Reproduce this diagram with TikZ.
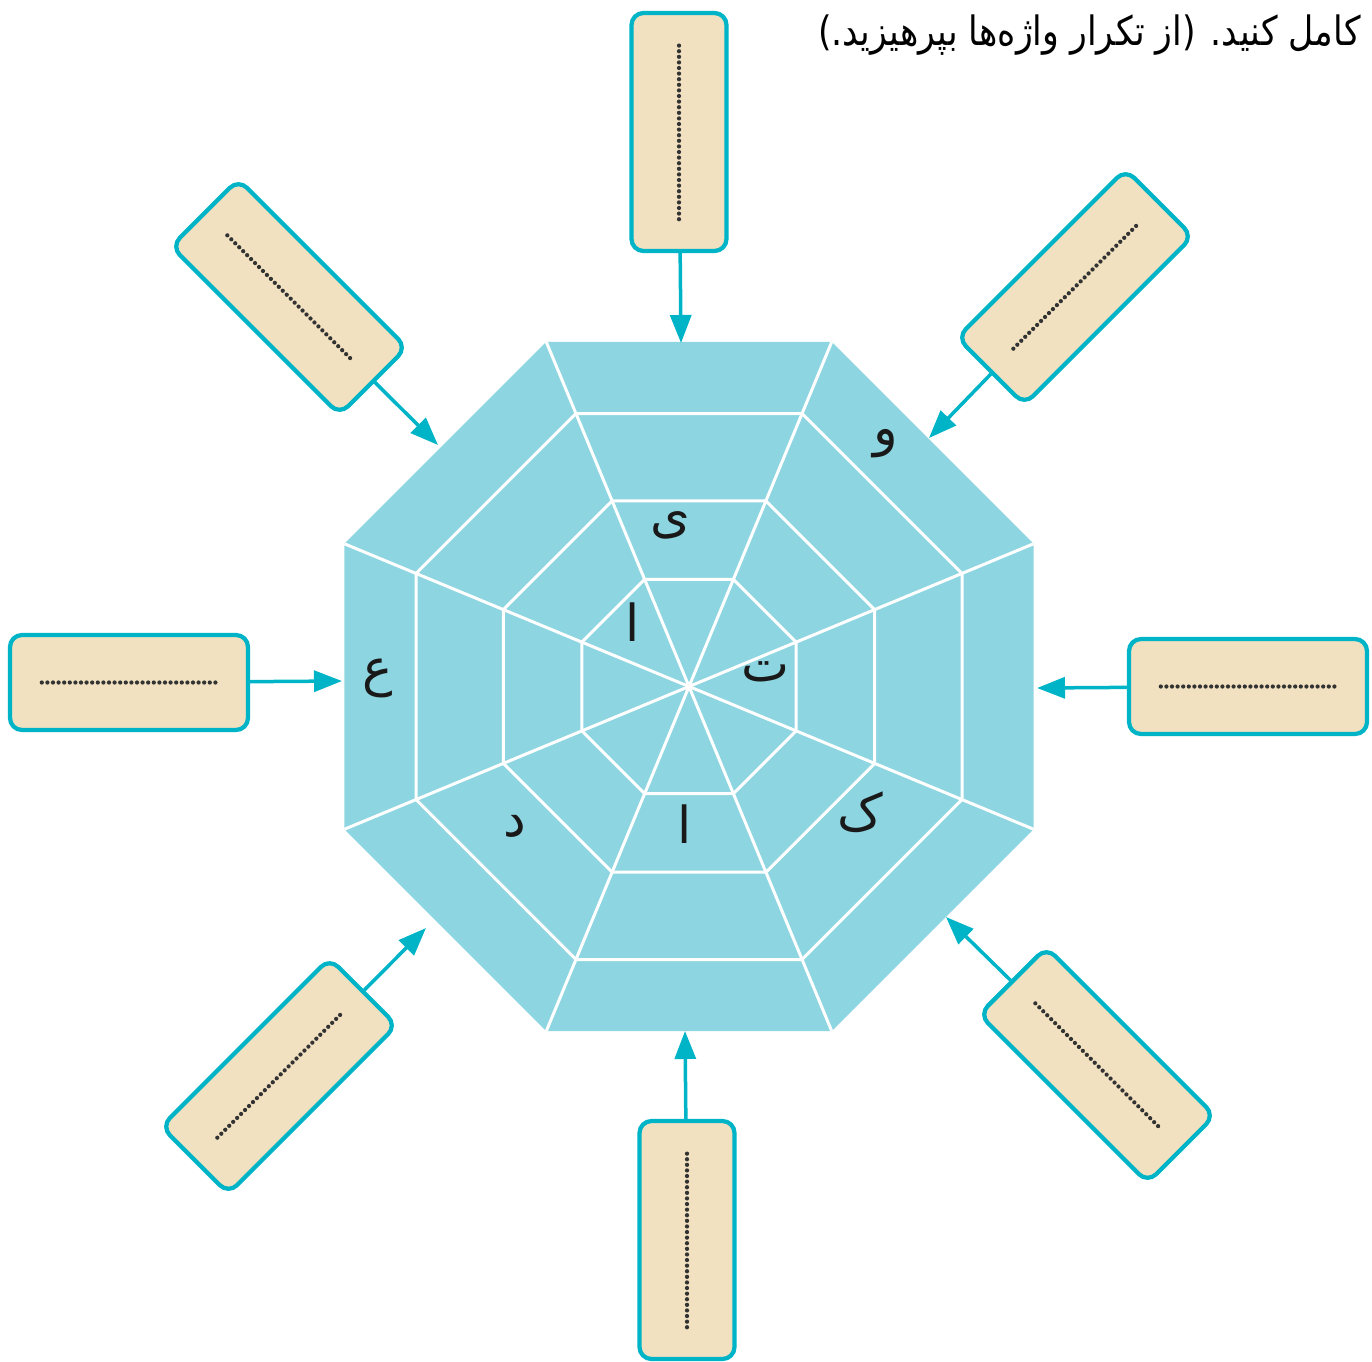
\documentclass[tikz,border=0pt]{standalone}
\usepackage{fontspec}
\usepackage{tikz}
\usetikzlibrary{arrows.meta,calc}
\TeXXeTstate=1
\newfontfamily\arabicfont[Script=Arabic]{DejaVu Sans}
\newfontfamily\titlefont[Script=Arabic, FakeStretch=0.86]{DejaVu Sans}
\definecolor{webblue}{HTML}{8DD5E0}
\definecolor{boxtan}{HTML}{F1E1C0}
\definecolor{boxteal}{HTML}{00B4C8}

\tikzset{
  wordbox/.style={rectangle, rounded corners=2.4mm, draw=boxteal, line width=0.85mm,
    fill=boxtan, minimum width=4.76cm, minimum height=1.9cm},
  dotrule/.style={line width=0.85mm, line cap=round, dash pattern=on 0pt off 1.12mm,
    black!80},
  feed/.style={-{Triangle[length=5.6mm, width=4.2mm]}, line width=0.7mm, boxteal},
  web/.style={white, line width=0.6mm, line join=round},
  letter/.style={font=\arabicfont\fontsize{29}{34}\selectfont, text=black!90}
}

\begin{document}
\begin{tikzpicture}[x=0.2mm, y=-0.2mm]
  \useasboundingbox (0,0) rectangle (1372,1361);
  \node[anchor=east, inner sep=0pt, font=\titlefont\fontsize{23}{28}\selectfont] (title) at (1361,35)
    {\beginR کامل کنید. (از تکرار واژه‌ها بپرهیزید.)\endR};

  % the octagonal web
  \coordinate (O) at (689,686.5);
  \begin{scope}[shift={(O)}]
    \fill[webblue] (22.5:373) \foreach \a in {67.5,112.5,...,337.5}{ -- (\a:373)} -- cycle;
    \foreach \r in {295.5,201,116}
      \draw[web] (22.5:\r) \foreach \a in {67.5,112.5,...,337.5}{ -- (\a:\r)} -- cycle;
    \foreach \a in {22.5,67.5,...,337.5}
      \draw[web] (0,0) -- (\a:373);
  \end{scope}

  \node[letter] (ye)   at (670,525) {\beginR ی\endR};
  \node[letter] (alef) at (633,622) {\beginR ا\endR};
  \node[letter] (te)   at (765,672) {\beginR ت\endR};
  \node[letter] (alf2) at (685,824) {\beginR ا\endR};
  \node[letter] (kaf)  at (860,812) {\beginR ک\endR};
  \node[letter] (dal)  at (515,826) {\beginR د\endR};
  \node[letter] (ein)  at (378,678) {\beginR ع\endR};
  \node[letter] (vav)  at (886,444) {\beginR و\endR};

  % points on the rim
  \coordinate (pN)  at (681,343);
  \coordinate (pNE) at (929,438);
  \coordinate (pE)  at (1037,688);
  \coordinate (pSE) at (946,917);
  \coordinate (pS)  at (685,1031);
  \coordinate (pSW) at (426,928);
  \coordinate (pW)  at (342,681);
  \coordinate (pNW) at (438,445);

  % boxes
  \node[wordbox, rotate=90]  (bN)  at (679,132) {};
  \node[wordbox, rotate=45]  (bNE) at (1075,287) {};
  \node[wordbox]             (bE)  at (1248,686.5) {};
  \node[wordbox, rotate=-45] (bSE) at (1097,1065) {};
  \node[wordbox, rotate=90]  (bS)  at (687,1240) {};
  \node[wordbox, rotate=45]  (bSW) at (279,1076) {};
  \node[wordbox]             (bW)  at (129,682.5) {};
  \node[wordbox, rotate=-45] (bNW) at (289,297) {};

  \foreach \b in {bN,bNE,bE,bSE,bS,bSW,bW,bNW}
    \draw[dotrule] ($(\b.west)!.14!(\b.east)$) -- ($(\b.west)!.86!(\b.east)$);

  \foreach \b/\p in {bN/pN,bNE/pNE,bE/pE,bSE/pSE,bS/pS,bSW/pSW,bW/pW,bNW/pNW}
    \draw[feed] (\b) -- (\p);
\end{tikzpicture}
\end{document}
